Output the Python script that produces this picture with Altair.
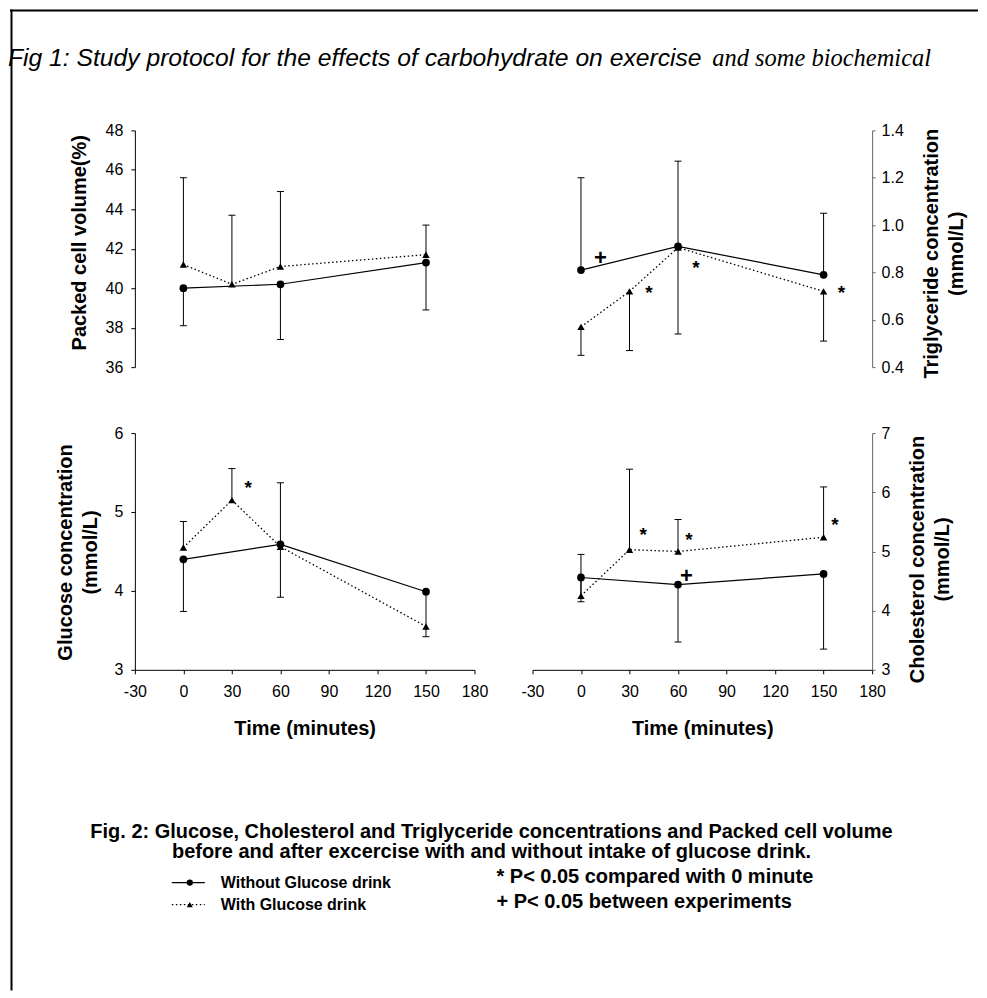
import altair as alt
import pandas as pd

FONT = "Liberation Sans"
SERIF = "Liberation Serif"

# ---------------- data ----------------
TIME_WITH = [0, 30, 60, 150]
TIME_WITHOUT = [0, 60, 150]
TIME_TICKS = [-30, 0, 30, 60, 90, 120, 150, 180]
TIME_DOMAIN = [-30, 180]

# Packed cell volume (%)
PCV_WITHOUT = [40.0, 40.2, 41.3]
PCV_WITHOUT_BAR = [38.1, 37.4, 38.9]
PCV_WITH = [41.2, 40.2, 41.1, 41.7]
PCV_WITH_BAR = [45.6, 43.7, 44.9, 43.2]
PCV_TICKS = [36, 38, 40, 42, 44, 46, 48]

# Triglyceride (mmol/L)
TG_WITHOUT = [0.81, 0.91, 0.79]
TG_WITHOUT_BAR = [1.20, 1.27, 1.05]
TG_WITH = [0.57, 0.72, 0.905, 0.72]
TG_WITH_BAR = [0.45, 0.47, 0.54, 0.51]
TG_TICKS = [0.4, 0.6, 0.8, 1.0, 1.2, 1.4]
TG_SIGNS = ["+", "*", "*", "*"]
TG_SIGN_T = [12, 42, 71, 161]
TG_SIGN_V = [0.865, 0.738, 0.844, 0.738]

# Glucose (mmol/L)
GLU_WITHOUT = [4.40, 4.59, 3.99]
GLU_WITHOUT_BAR = [3.74, 3.92, 3.42]
GLU_WITH = [4.55, 5.15, 4.56, 3.55]
GLU_WITH_BAR = [4.88, 5.55, 5.37, None]
GLU_TICKS = [3, 4, 5, 6]
GLU_SIGNS = ["*"]
GLU_SIGN_T = [40]
GLU_SIGN_V = [5.38]

# Cholesterol (mmol/L)
CHOL_WITHOUT = [4.56, 4.44, 4.62]
CHOL_WITHOUT_BAR = [4.15, 3.47, 3.35]
CHOL_WITH = [4.25, 5.03, 5.00, 5.24]
CHOL_WITH_BAR = [4.95, 6.39, 5.54, 6.09]
CHOL_TICKS = [3, 4, 5, 6, 7]
CHOL_SIGNS = ["*", "*", "*", "+"]
CHOL_SIGN_T = [38.5, 66.7, 157, 65.2]
CHOL_SIGN_V = [5.38, 5.30, 5.55, 4.60]

HEADER_SANS = "Fig 1: Study protocol for the effects of carbohydrate on exercise"
HEADER_SERIF = "and some biochemical"
CAPTION = [
    "Fig. 2: Glucose, Cholesterol and Triglyceride concentrations and Packed cell volume",
    "before and after excercise with and without intake of glucose drink.",
]
LEGEND = ["Without Glucose drink", "With Glucose drink"]
NOTES = ["* P< 0.05 compared with 0 minute", "+ P< 0.05 between experiments"]


def series_frame(without, without_bar, with_, with_bar):
    return pd.DataFrame({
        "series": ["Without"] * len(TIME_WITHOUT) + ["With"] * len(TIME_WITH),
        "t": TIME_WITHOUT + TIME_WITH,
        "v": without + with_,
        "bar": without_bar + with_bar,
    })


def panel(df, signs, ydom, yticks, yfmt, ytitle, orient, title_x, title_y, show_x):
    xs = alt.Scale(domain=TIME_DOMAIN, nice=False, zero=False)
    ys = alt.Scale(domain=ydom, nice=False, zero=False)
    if show_x:
        xaxis = alt.Axis(values=TIME_TICKS, title="Time (minutes)", grid=False,
                         labelExpr="'' + datum.value",
                         tickSize=4, labelPadding=10, labelFlush=False, labelOverlap=False,
                         labelFont=FONT, labelFontSize=16, labelColor="black",
                         titleFont=FONT, titleFontSize=20, titleFontWeight="bold",
                         titleColor="black", titleY=58.5, titleBaseline="middle",
                         domainColor="black", tickColor="black")
    else:
        xaxis = None
    right = orient == "right"
    yaxis = alt.Axis(orient=orient, values=yticks, format=yfmt, title=ytitle, grid=False,
                     tickSize=3 if right else 4, labelPadding=6 if right else 8,
                     labelFlush=False, labelOverlap=False,
                     labelFont=FONT, labelFontSize=16, labelColor="black",
                     titleFont=FONT, titleFontSize=20, titleFontWeight="bold",
                     titleColor="black", titleAngle=270, titleX=title_x, titleY=title_y,
                     titleBaseline="middle", titleAlign="center", titleLineHeight=24.5,
                     domainColor="#666" if right else "black",
                     tickColor="#666" if right else "black")
    X = alt.X("t:Q", scale=xs, axis=xaxis)
    Yv = alt.Y("v:Q", scale=ys, axis=yaxis)
    base = alt.Chart(df)
    bars = base.transform_filter("isValid(datum.bar)").mark_rule(
        color="black", strokeWidth=1).encode(x=X, y=Yv, y2=alt.Y2("bar:Q"))
    caps = base.transform_filter("isValid(datum.bar)").mark_tick(
        orient="horizontal", color="black", size=7, thickness=1, opacity=1).encode(
        x=X, y=alt.Y("bar:Q", scale=ys, axis=yaxis))
    line_wo = base.transform_filter("datum.series == 'Without'").mark_line(
        color="black", strokeWidth=1.2).encode(x=X, y=Yv)
    line_w = base.transform_filter("datum.series == 'With'").mark_line(
        color="black", strokeWidth=1.3, strokeDash=[1.5, 2.5]).encode(x=X, y=Yv)
    circ = base.transform_filter("datum.series == 'Without'").mark_point(
        shape="circle", filled=True, size=60, color="black", opacity=1).encode(x=X, y=Yv)
    tri = base.transform_filter("datum.series == 'With'").mark_point(
        shape="triangle-up", filled=True, size=55, color="black", opacity=1).encode(x=X, y=Yv)
    layers = [bars, caps, line_wo, line_w, circ, tri]
    if signs is not None:
        sdf = pd.DataFrame({"sym": signs[0], "t": signs[1], "v": signs[2]})
        sb = alt.Chart(sdf)
        star = sb.transform_filter("datum.sym == '*'").mark_text(
            font=FONT, fontWeight="bold", fontSize=19, dy=6, color="black").encode(
            x=X, y=Yv, text="sym:N")
        plus = sb.transform_filter("datum.sym == '+'").mark_text(
            font=FONT, fontWeight="bold", fontSize=22, dy=1, color="black").encode(
            x=X, y=Yv, text="sym:N")
        layers += [star, plus]
    return alt.layer(*layers).properties(width=340, height=237)


dummy = pd.DataFrame({"k": [0]})


def blank(w, h):
    return alt.Chart(dummy).mark_point(opacity=0, size=1).encode(
        x=alt.value(2), y=alt.value(2)).properties(width=w, height=h)


tl = panel(series_frame(PCV_WITHOUT, PCV_WITHOUT_BAR, PCV_WITH, PCV_WITH_BAR), None,
           [36, 48], PCV_TICKS, "d", "Packed cell volume(%)", "left", -55.8, 112, False)
tr = panel(series_frame(TG_WITHOUT, TG_WITHOUT_BAR, TG_WITH, TG_WITH_BAR),
           (TG_SIGNS, TG_SIGN_T, TG_SIGN_V),
           [0.4, 1.4], TG_TICKS, ".1f", ["Triglyceride concentration", "(mmol/L)"],
           "right", 59.5, 123, False)
bl = panel(series_frame(GLU_WITHOUT, GLU_WITHOUT_BAR, GLU_WITH, GLU_WITH_BAR),
           (GLU_SIGNS, GLU_SIGN_T, GLU_SIGN_V),
           [3, 6], GLU_TICKS, "d", ["Glucose concentration", "(mmol/L)"],
           "left", -69, 119, True)
br = panel(series_frame(CHOL_WITHOUT, CHOL_WITHOUT_BAR, CHOL_WITH, CHOL_WITH_BAR),
           (CHOL_SIGNS, CHOL_SIGN_T, CHOL_SIGN_V),
           [3, 7], CHOL_TICKS, "d", ["Cholesterol concentration", "(mmol/L)"],
           "right", 45.5, 126, True)

# ---------------- header (drawn in the top-left cell, overflowing) ----------------
hb = alt.Chart(dummy)
border_top = hb.mark_rule(color="black", strokeWidth=2).encode(
    x=alt.value(2), x2=alt.value(971), y=alt.value(1))
border_left = hb.mark_rule(color="black", strokeWidth=2).encode(
    x=alt.value(3.5), y=alt.value(0), y2=alt.value(982))
head1 = hb.mark_text(font=FONT, fontStyle="italic", fontSize=24.7, align="left",
                     baseline="alphabetic", color="black").encode(
    x=alt.value(0), y=alt.value(57), text=alt.value(HEADER_SANS))
head2 = hb.mark_text(font=SERIF, fontStyle="italic", fontSize=24.5, align="right",
                     baseline="alphabetic", color="black").encode(
    x=alt.value(924), y=alt.value(57), text=alt.value(HEADER_SERIF))
header = alt.layer(border_top, border_left, head1, head2).properties(width=127, height=121)

# ---------------- caption / legend (bottom-left cell, overflowing) ----------------
cb = alt.Chart(dummy)
cap_layers = []
for i, line in enumerate(CAPTION):
    cap_layers.append(cb.mark_text(font=FONT, fontWeight="bold", fontSize=20, align="center",
                                   baseline="middle", color="black").encode(
        x=alt.value(484), y=alt.value(162 + 20 * i), text=alt.value(line)))
leg_y = [213, 235]
cap_layers.append(cb.mark_rule(color="black", strokeWidth=1.2).encode(
    x=alt.value(164), x2=alt.value(197), y=alt.value(leg_y[0])))
cap_layers.append(cb.mark_rule(color="black", strokeWidth=1.3, strokeDash=[1.5, 2.5]).encode(
    x=alt.value(164), x2=alt.value(197), y=alt.value(leg_y[1])))
cap_layers.append(cb.mark_point(shape="circle", filled=True, size=40, color="black",
                                opacity=1).encode(x=alt.value(182), y=alt.value(leg_y[0])))
cap_layers.append(cb.mark_point(shape="triangle-up", filled=True, size=36, color="black",
                                opacity=1).encode(x=alt.value(182), y=alt.value(leg_y[1])))
for i, txt in enumerate(LEGEND):
    cap_layers.append(cb.mark_text(font=FONT, fontWeight="bold", fontSize=16, align="left",
                                   baseline="middle", color="black").encode(
        x=alt.value(213), y=alt.value(leg_y[i]), text=alt.value(txt)))
for i, txt in enumerate(NOTES):
    cap_layers.append(cb.mark_text(font=FONT, fontWeight="bold", fontSize=20, align="left",
                                   baseline="middle", color="black").encode(
        x=alt.value(489), y=alt.value(207 + 25 * i), text=alt.value(txt)))
caption = alt.layer(*cap_layers).properties(width=127, height=321)

cells = [
    header, blank(340, 121), blank(58, 121), blank(340, 121),
    blank(127, 237), tl, blank(58, 237), tr,
    blank(127, 66), blank(340, 66), blank(58, 66), blank(340, 66),
    blank(127, 237), bl, blank(58, 237), br,
    caption, blank(340, 321), blank(58, 321), blank(340, 321),
]

chart = alt.concat(*cells, columns=4, spacing=0, bounds="flush", align="each").properties(
    padding=0, background="white").configure_view(stroke=None)

chart.save("out.html", embed_options={"renderer": "svg", "actions": False})
